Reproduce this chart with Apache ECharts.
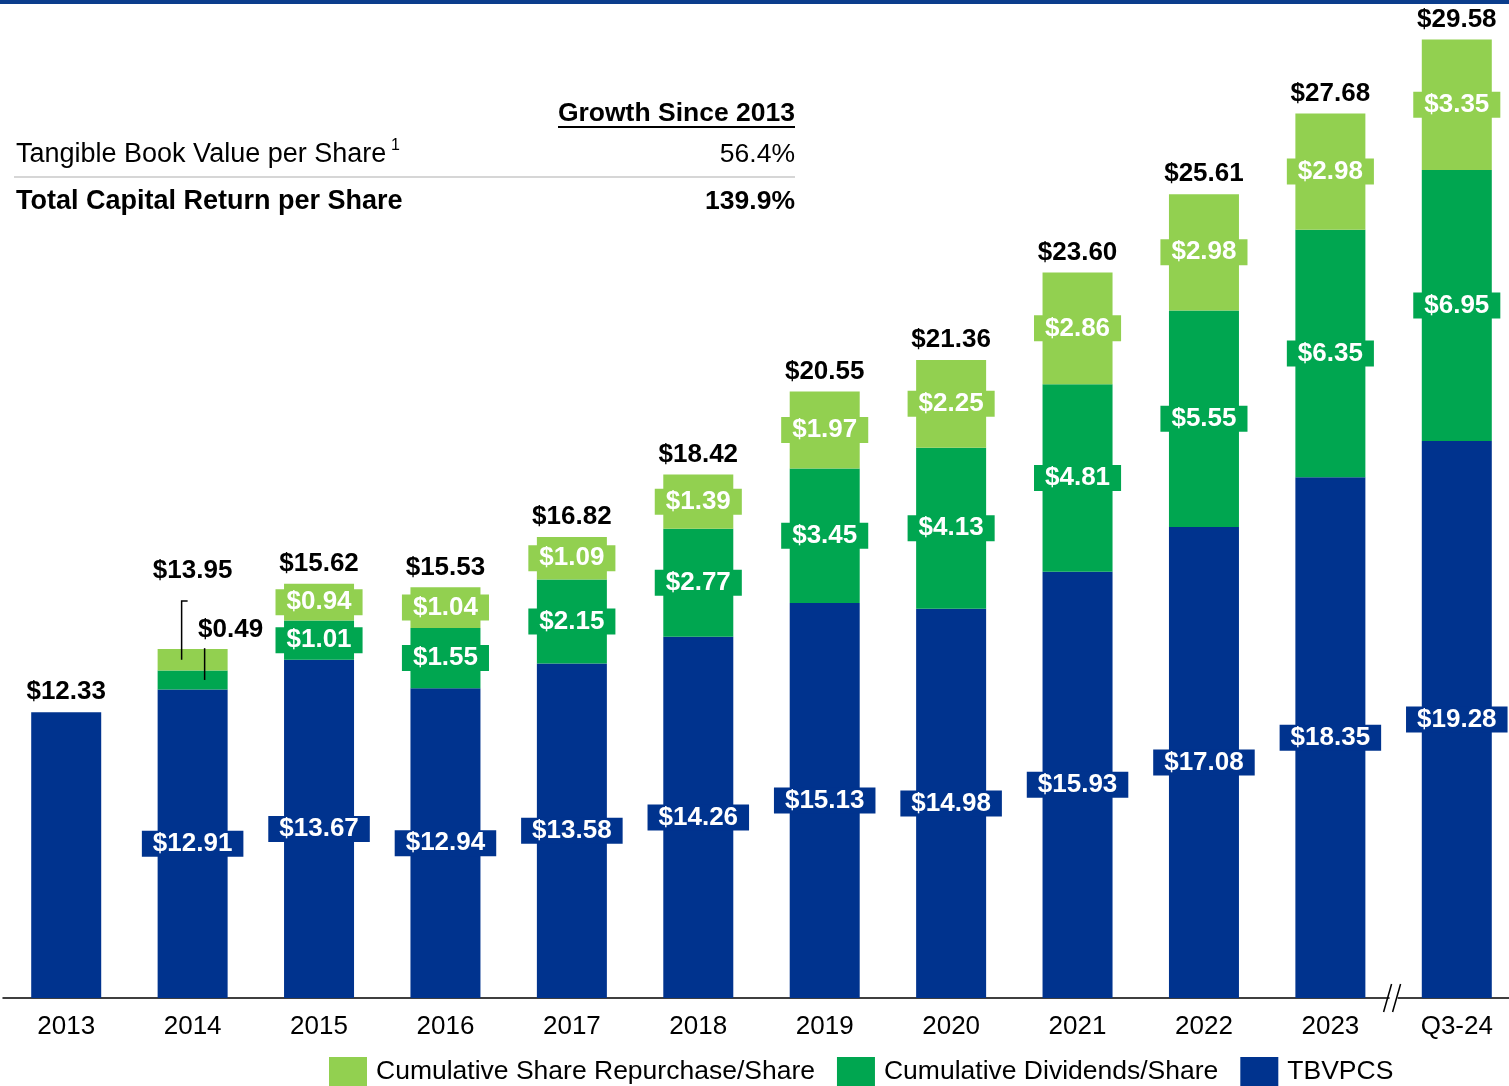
<!DOCTYPE html>
<html>
<head>
<meta charset="utf-8">
<script src="https://cdn.jsdelivr.net/npm/echarts@6/dist/echarts.min.js"></script>
<style>
    html, body { margin: 0; padding: 0; background: #fff; }
    #chart { width: 1509px; height: 1086px; }
</style>
</head>
<body>
<div id="chart"></div>
<script>
    // 数据
    const categories = ['2013', '2014', '2015', '2016', '2017', '2018', '2019', '2020', '2021', '2022', '2023', 'Q3-24'];
    const tbvpcs = [12.33, 12.91, 13.67, 12.94, 13.58, 14.26, 15.13, 14.98, 15.93, 17.08, 18.35, 19.28];
    const dividends = [0, 0.49, 1.01, 1.55, 2.15, 2.77, 3.45, 4.13, 4.81, 5.55, 6.35, 6.95];
    const repurchases = [0, 0.55, 0.94, 1.04, 1.09, 1.39, 1.97, 2.25, 2.86, 2.98, 2.98, 3.35];
    const totals = [12.33, 13.95, 15.62, 15.53, 16.82, 18.42, 20.55, 21.36, 23.60, 25.61, 27.68, 29.58];

    const BLUE = '#00338E';
    const GREEN = '#00A650';
    const LIGHT = '#92D050';
    const FONT = '"Liberation Sans", Arial, sans-serif';

    const money = p => '$' + Number(p.value).toFixed(2);

    function insideLabel(color) {
        return {
            show: true,
            position: 'inside',
            formatter: money,
            color: '#fff',
            fontFamily: FONT,
            fontWeight: 'bold',
            fontSize: 26,
            lineHeight: 26,
            backgroundColor: color,
            padding: [0, 11]
        };
    }

    // 2013 只显示总额；2014 的股息标签挪到右上方
    const tbvData = tbvpcs.map((v, i) => i === 0 ? {value: v, label: {show: false}} : v);
    const divData = dividends.map((v, i) => {
        if (!v) return {value: v, label: {show: false}};
        if (i === 1) return {value: v, label: {offset: [38, -50], backgroundColor: 'transparent', color: '#000'}};
        return v;
    });
    const repData = repurchases.map((v, i) => {
        if (!v || i === 1) return {value: v, label: {show: false}};
        return v;
    });
    const totalData = totals.map((v, i) => i === 1 ? {value: v, label: {offset: [0, -58]}} : v);

    const chart = echarts.init(document.getElementById('chart'));

    const option = {
        animation: false,
        textStyle: {fontFamily: FONT},
        grid: {left: 3, width: 1517, top: 23, bottom: 88, outerBoundsMode: 'none'},
        legend: {
            data: ['Cumulative Share Repurchase/Share', 'Cumulative Dividends/Share', 'TBVPCS'],
            left: 329,
            top: 1057,
            padding: 0,
            icon: 'rect',
            itemWidth: 38,
            itemHeight: 29,
            itemGap: 22,
            textStyle: {fontSize: 26.5, color: '#000', fontFamily: FONT, padding: [0, 0, 0, 4]}
        },
        xAxis: {
            type: 'category',
            data: categories,
            axisLine: {lineStyle: {color: '#000', width: 1.5}},
            axisTick: {show: false},
            axisLabel: {color: '#000', fontSize: 26, fontFamily: FONT, margin: 16}
        },
        yAxis: {
            type: 'value',
            min: 5,
            max: 30,
            show: false,
            splitLine: {show: false}
        },
        series: [
            {
                name: 'TBVPCS',
                type: 'bar',
                stack: 'total',
                barWidth: 70,
                itemStyle: {color: BLUE},
                label: insideLabel(BLUE),
                data: tbvData
            },
            {
                name: 'Cumulative Dividends/Share',
                type: 'bar',
                stack: 'total',
                barWidth: 70,
                itemStyle: {color: GREEN},
                label: insideLabel(GREEN),
                data: divData
            },
            {
                name: 'Cumulative Share Repurchase/Share',
                type: 'bar',
                stack: 'total',
                barWidth: 70,
                itemStyle: {color: LIGHT},
                label: insideLabel(LIGHT),
                data: repData
            },
            {
                name: 'Total',
                type: 'scatter',
                symbolSize: 0,
                itemStyle: {color: '#000', opacity: 1},
                z: 10,
                label: {
                    show: true,
                    position: 'top',
                    distance: 7,
                    formatter: money,
                    color: '#000',
                    opacity: 1,
                    fontFamily: FONT,
                    fontWeight: 'bold',
                    fontSize: 26
                },
                data: totalData
            }
        ]
    };
    chart.setOption(option);

    // 引线、坐标轴断点、表格
    const px = (i, v) => chart.convertToPixel({gridIndex: 0}, [i, v]);
    const a1 = px(1, 15.18), a2 = px(1, (tbvpcs[1] + dividends[1] + totals[1]) / 2);
    const b1 = px(1, 13.97), b2 = px(1, tbvpcs[1] + dividends[1] / 2);
    const p10 = px(10, 5), p11 = px(11, 5);
    const brk = [(p10[0] + p11[0]) / 2, p10[1]];

    const txt = (x, y, text, align, bold, size) => ({
        type: 'text', x: x, y: y, z: 20,
        style: {
            text: text, fill: '#000', align: align, verticalAlign: 'middle',
            font: (bold ? 'bold ' : '') + (size || 26.5) + 'px ' + FONT
        }
    });

    chart.setOption({
        graphic: [
            {type: 'rect', shape: {x: 0, y: 0, width: 1509, height: 4}, style: {fill: '#0B3D8C'}},
            {type: 'polyline', z: 20, shape: {points: [[a1[0] - 11 + 6, a1[1]], [a1[0] - 11, a1[1]], [a2[0] - 11, a2[1]]]}, style: {stroke: '#000', lineWidth: 1.5, fill: null}},
            {type: 'line', z: 20, shape: {x1: b1[0] + 12, y1: b1[1], x2: b2[0] + 12, y2: b2[1]}, style: {stroke: '#000', lineWidth: 1.5}},
            {type: 'rect', z: 20, shape: {x: brk[0] - 4, y: brk[1] - 3, width: 8, height: 6}, style: {fill: '#fff'}},
            {type: 'line', z: 21, shape: {x1: brk[0] - 10, y1: brk[1] + 14, x2: brk[0] - 2, y2: brk[1] - 14}, style: {stroke: '#000', lineWidth: 1.5}},
            {type: 'line', z: 21, shape: {x1: brk[0] - 1, y1: brk[1] + 14, x2: brk[0] + 7, y2: brk[1] - 14}, style: {stroke: '#000', lineWidth: 1.5}},

            txt(795, 114, 'Growth Since 2013', 'right', true),
            {type: 'line', shape: {x1: 558, y1: 127, x2: 795, y2: 127}, style: {stroke: '#000', lineWidth: 2}},
            txt(16, 155, 'Tangible Book Value per Share', 'left', false, 27),
            txt(391, 146, '1', 'left', false, 16),
            txt(795, 155, '56.4%', 'right', false),
            {type: 'line', shape: {x1: 14, y1: 177, x2: 795, y2: 177}, style: {stroke: '#C8C8C8', lineWidth: 1.5}},
            txt(16, 202, 'Total Capital Return per Share', 'left', true, 27),
            txt(795, 202, '139.9%', 'right', true)
        ]
    });
</script>
</body>
</html>
